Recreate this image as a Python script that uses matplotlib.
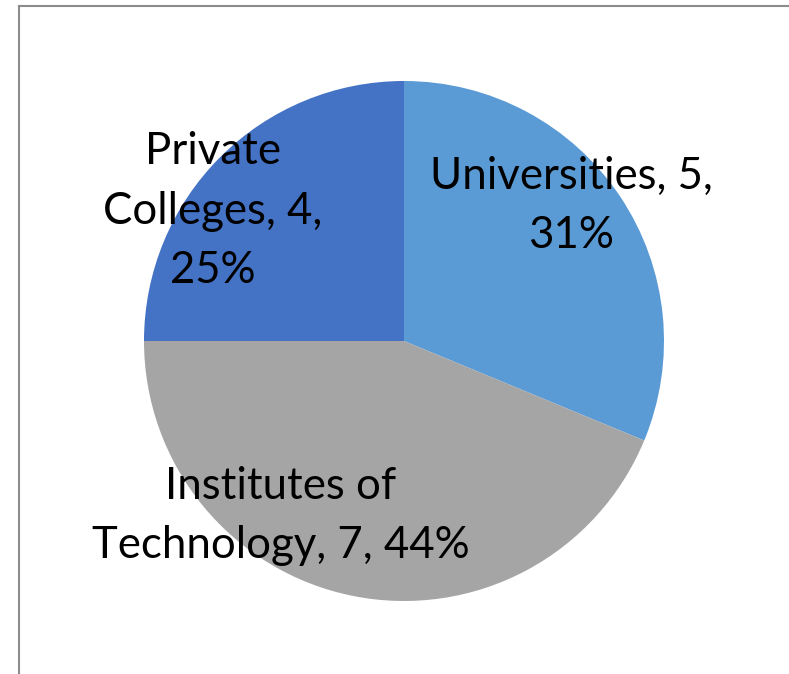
import matplotlib
matplotlib.use('Agg')
import matplotlib.pyplot as plt
from matplotlib.lines import Line2D

# Institution counts by type
categories = ['Universities', 'Institutes of Technology', 'Private Colleges']
counts = [5, 7, 4]
colors = ['#5B9BD5', '#A5A5A5', '#4472C4']
label_lines = [['Universities, {v},', '{p}%'],
               ['Institutes of', 'Technology, {v}, {p}%'],
               ['Private', 'Colleges, {v},', '{p}%']]

W, H = 789, 674
fig = plt.figure(figsize=(W / 100, H / 100), dpi=100)
ax = fig.add_axes([0, 0, 1, 1])

cx, cy, r = 404, H - 341, 260
wedges, _ = ax.pie(counts, colors=colors, startangle=90, counterclock=False,
                   center=(cx, cy), radius=r, frame=True)
ax.set_xlim(0, W)
ax.set_ylim(0, H)
ax.set_aspect('equal')
ax.axis('off')

total = sum(counts)
label_pos = [(571, 206), (281, 516), (213, 211)]
for lines, v, (x, y) in zip(label_lines, counts, label_pos):
    p = round(100 * v / total)
    txt = '\n'.join(l.format(v=v, p=p) for l in lines)
    ax.text(x, H - y, txt, ha='center', va='center', fontsize=31.5,
            family='Lato', linespacing=1.55, color='black')

# thin gray frame on top and left
fig.add_artist(Line2D([18.5 / W, 1], [1 - 5.5 / H, 1 - 5.5 / H],
                      transform=fig.transFigure, color='#8c8c8c', lw=1.5))
fig.add_artist(Line2D([18.5 / W, 18.5 / W], [0, 1 - 5.5 / H],
                      transform=fig.transFigure, color='#8c8c8c', lw=1.5))

fig.savefig('out.png', dpi=100)
